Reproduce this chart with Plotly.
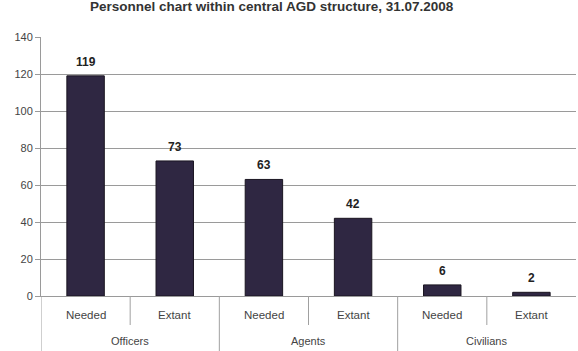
import plotly.graph_objects as go

groups = ["Officers", "Officers", "Agents", "Agents", "Civilians", "Civilians"]
subcats = ["Needed", "Extant", "Needed", "Extant", "Needed", "Extant"]
values = [119, 73, 63, 42, 6, 2]
title_text = "Personnel chart within central AGD structure, 31.07.2008"

PLOT_H = 259
n = len(values)

fig = go.Figure()
fig.add_trace(go.Bar(
    x=list(range(n)),
    y=values,
    marker=dict(color="#2f2742", line=dict(color="#1a1520", width=1)),
    width=0.42,
))

# value labels above bars
for i, v in enumerate(values):
    fig.add_annotation(text="<b>" + str(v) + "</b>", xref="x", yref="y", x=i, y=v,
                       yshift=14, xanchor="center", yanchor="middle", showarrow=False,
                       font=dict(family="Liberation Sans", size=12, color="#222222"))

fig.add_annotation(
    text="<b>" + title_text + "</b>", xref="paper", yref="paper", x=0.432, y=1 + 31 / PLOT_H,
    xanchor="center", yanchor="middle", showarrow=False,
    font=dict(family="Liberation Sans", size=13.5, color="#333333"),
)

# sub-category labels
for i, s in enumerate(subcats):
    fig.add_annotation(text=s, xref="x", yref="paper", x=i, y=-19 / PLOT_H,
                       xanchor="center", yanchor="middle", showarrow=False,
                       font=dict(family="Liberation Sans", size=11.5, color="#444444"))
# group labels
seen = []
for g in groups:
    if g not in seen:
        seen.append(g)
for g in seen:
    idx = [i for i, gg in enumerate(groups) if gg == g]
    fig.add_annotation(text=g, xref="x", yref="paper", x=sum(idx) / len(idx), y=-45 / PLOT_H,
                       xanchor="center", yanchor="middle", showarrow=False,
                       font=dict(family="Liberation Sans", size=11, color="#444444"))

shapes = []
# group dividers (full height of label area)
for g in seen:
    k = groups.index(g)
    shapes.append(dict(type="line", xref="x", yref="paper",
                       x0=k - 0.5, x1=k - 0.5, y0=0, y1=-56 / PLOT_H,
                       line=dict(color="#a0a0a0", width=1)))
# sub-category dividers
for k in range(1, n):
    if groups[k] == groups[k - 1]:
        shapes.append(dict(type="line", xref="x", yref="paper",
                           x0=k - 0.5, x1=k - 0.5, y0=0, y1=-29 / PLOT_H,
                           line=dict(color="#a0a0a0", width=1)))

fig.update_layout(
    width=578, height=351,
    margin=dict(l=41, r=2, t=37, b=55),
    paper_bgcolor="white", plot_bgcolor="white",
    showlegend=False,
    shapes=shapes,
    font=dict(family="Liberation Sans", size=11, color="#444444"),
)
fig.update_yaxes(
    range=[0, 140], dtick=20, showgrid=True, gridcolor="#9a9a9a", gridwidth=1,
    showline=True, linecolor="#9a9a9a", ticks="outside", ticklen=5,
    tickcolor="#9a9a9a", zeroline=False, tickfont=dict(size=11, color="#444444"),
)
fig.update_xaxes(
    range=[-0.5, n - 0.5], showline=True, linecolor="#9a9a9a",
    showticklabels=False, showgrid=False, zeroline=False,
)

fig.write_html("out.html", post_script="document.body.style.margin='0';",
               config={"displayModeBar": False})
